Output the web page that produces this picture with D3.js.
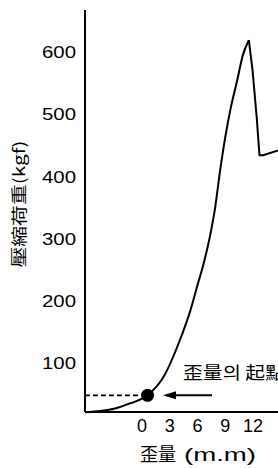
<!DOCTYPE html>
<html>
<head>
<meta charset="utf-8">
<script src="https://cdn.jsdelivr.net/npm/d3@7"></script>
<style>
  html, body { margin: 0; padding: 0; background: #fff; }
  svg { display: block; }
</style>
</head>
<body>
<div id="chart"></div>
<script>
// Achsen-Ticks
const xTicks = [0, 3, 6, 9, 12];
const yTicks = [100, 200, 300, 400, 500, 600];

// Kurve: Stauchung (mm) und Last (kgf) (aufsteigender Ast bis zum Maximum)
const strainUp = [-6.1, -4.5, -2.9, -1.3, 0.6, 2.3, 4.1, 5.2, 5.9, 6.7, 7.35, 7.9, 8.45, 9.0, 9.55, 10.3, 10.9, 11.55];
const loadUp   = [21, 23, 27, 35, 48, 77, 137, 183, 220, 262, 304, 349, 410, 463, 507, 555, 595, 619];

// abfallender Ast nach dem Maximum
const strainDown = [11.55, 11.95, 12.4, 12.7, 13.1, 14.8];
const loadDown   = [619, 571, 495, 434, 434, 442];

// Startpunkt der Stauchung
const startPoint = [0.6, 48];

const width = 278;
const height = 468;

const svg = d3.select("#chart").append("svg")
    .attr("width", width)
    .attr("height", height);

const x = d3.scaleLinear().domain([0, 12]).range([142, 253]);
const y = d3.scaleLinear().domain([100, 600]).range([363, 52]);

const xMin = x.invert(85), xMax = x.invert(278);
const yMin = y.invert(412), yMax = y.invert(10);

const font = "'Liberation Sans', Arial, sans-serif";
const cjk = "'Noto Sans CJK KR', 'Noto Sans CJK JP', sans-serif";

// Achsenlinien
svg.append("line")
    .attr("x1", x(xMin)).attr("x2", x(xMin))
    .attr("y1", y(yMax)).attr("y2", y(yMin))
    .style("stroke", "#000").style("stroke-width", 2);

svg.append("line")
    .attr("x1", x(xMin)).attr("x2", x(xMax))
    .attr("y1", y(yMin)).attr("y2", y(yMin))
    .style("stroke", "#000").style("stroke-width", 2);

// Y-Tick-Beschriftung
svg.selectAll(".ytick")
    .data(yTicks)
    .enter().append("text")
    .attr("class", "ytick")
    .attr("x", 76)
    .attr("y", d => y(d))
    .attr("dy", "0.36em")
    .attr("text-anchor", "end")
    .attr("textLength", 34)
    .attr("lengthAdjust", "spacingAndGlyphs")
    .style("font-family", font)
    .style("font-size", "17px")
    .text(d => d);

// X-Tick-Beschriftung
svg.selectAll(".xtick")
    .data(xTicks)
    .enter().append("text")
    .attr("class", "xtick")
    .attr("x", d => x(d))
    .attr("y", 426)
    .attr("dy", "0.36em")
    .attr("text-anchor", "middle")
    .style("font-family", font)
    .style("font-size", "18px")
    .text(d => d);

// Gestrichelte Linie zum Startpunkt
svg.append("line")
    .attr("x1", x(xMin)).attr("x2", x(startPoint[0]))
    .attr("y1", y(startPoint[1])).attr("y2", y(startPoint[1]))
    .style("stroke", "#000")
    .style("stroke-width", 1.6)
    .style("stroke-dasharray", "5,3");

// Kurve (zwei Äste, damit die Spitze spitz bleibt)
const lineUp = d3.line()
    .x((d, i) => x(strainUp[i]))
    .y(d => y(d))
    .curve(d3.curveMonotoneX);

const lineDown = d3.line()
    .x((d, i) => x(strainDown[i]))
    .y(d => y(d));

svg.append("path")
    .attr("d", lineUp(loadUp))
    .style("fill", "none")
    .style("stroke", "#000")
    .style("stroke-width", 2)
    .style("stroke-linejoin", "miter");

svg.append("path")
    .attr("d", lineDown(loadDown))
    .style("fill", "none")
    .style("stroke", "#000")
    .style("stroke-width", 2);

// Punkt
svg.append("circle")
    .attr("cx", x(startPoint[0]))
    .attr("cy", y(startPoint[1]))
    .attr("r", 6.5)
    .style("fill", "#000");

// Pfeil
const arrowY = y(startPoint[1]);
svg.append("line")
    .attr("x1", 168).attr("x2", 212)
    .attr("y1", arrowY).attr("y2", arrowY)
    .style("stroke", "#000").style("stroke-width", 2);
svg.append("path")
    .attr("d", `M163,${arrowY} L176,${arrowY - 4} L176,${arrowY + 4} Z`)
    .style("fill", "#000");

// Annotation
svg.append("text")
    .attr("x", 183)
    .attr("y", 379)
    .attr("textLength", 102)
    .attr("lengthAdjust", "spacingAndGlyphs")
    .style("font-family", cjk)
    .style("font-size", "17px")
    .text("歪量의 起點");

// Achsentitel X
svg.append("text")
    .attr("x", 140)
    .attr("y", 461)
    .style("font-family", cjk)
    .style("font-size", "18px")
    .text("歪量");
svg.append("text")
    .attr("x", 184)
    .attr("y", 461)
    .attr("textLength", 72)
    .attr("lengthAdjust", "spacingAndGlyphs")
    .style("font-family", font)
    .style("font-size", "19px")
    .text("(m.m)");

// Achsentitel Y
svg.append("text")
    .attr("transform", "translate(25,204) rotate(-90) scale(1.3,1)")
    .attr("text-anchor", "middle")
    .style("font-family", cjk)
    .style("font-size", "16px")
    .text("壓縮荷重(kgf)");
</script>
</body>
</html>
